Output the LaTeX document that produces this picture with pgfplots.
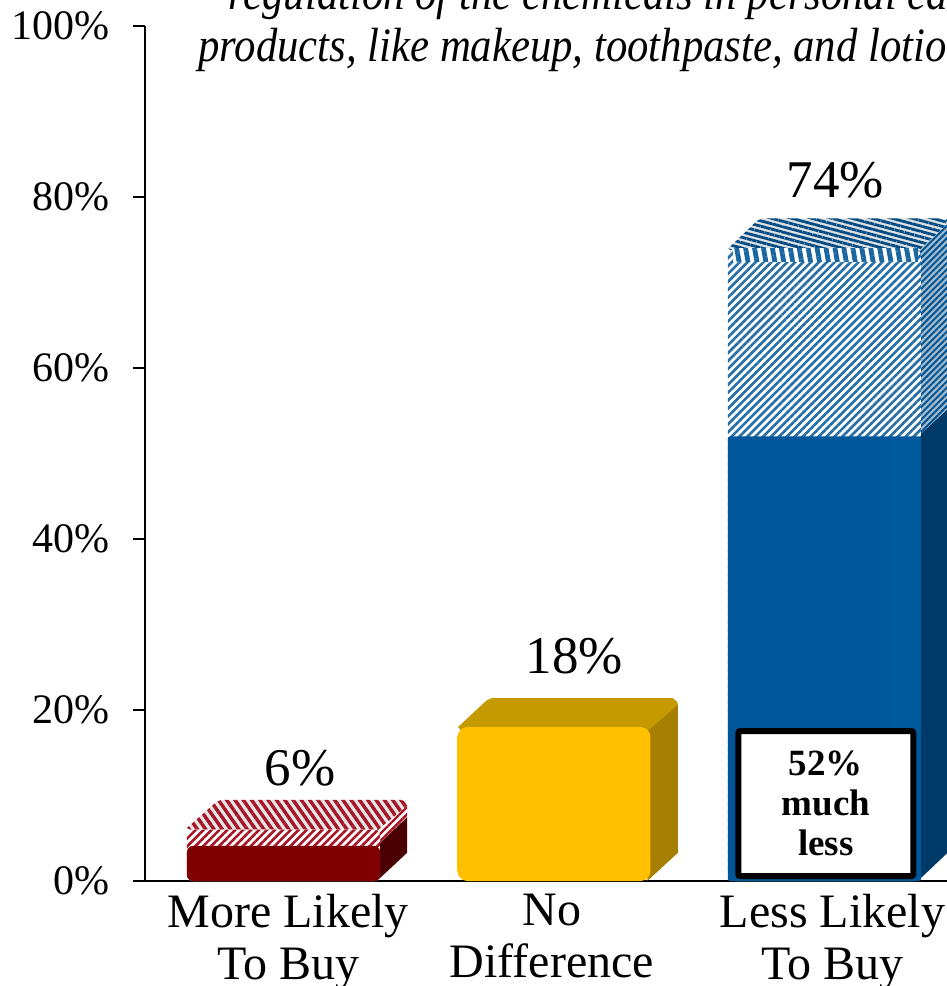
\documentclass[border=0pt]{standalone}
\usepackage{fontspec}
\setmainfont{Liberation Serif}
\usepackage{graphicx}
\usepackage{pgfplots}
\pgfplotsset{compat=1.18}
\usetikzlibrary{patterns.meta}

\definecolor{redfront}{HTML}{7F0000}
\definecolor{redstripe}{HTML}{A51525}
\definecolor{redside}{HTML}{4A0000}
\definecolor{goldfront}{HTML}{FFC000}
\definecolor{goldtop}{HTML}{C49A00}
\definecolor{goldside}{HTML}{A67F00}
\definecolor{bluefront}{HTML}{005596}
\definecolor{blueright}{HTML}{005A9E}
\definecolor{blueside}{HTML}{003A68}
\definecolor{edgegrey}{HTML}{9A9A9A}
\definecolor{edgelight}{HTML}{C8C0A0}

% soft bevel on the left and right edge of the front faces
\pgfdeclarehorizontalshading{redbevel}{100bp}{color(0bp)=(edgegrey); color(1.5bp)=(redfront); color(92bp)=(redfront); color(100bp)=(redside)}
\pgfdeclarehorizontalshading{goldbevel}{100bp}{color(0bp)=(edgelight); color(2bp)=(goldfront); color(91bp)=(goldfront); color(100bp)=(goldside)}
\pgfdeclarehorizontalshading{bluebevel}{100bp}{color(0bp)=(edgegrey); color(1.5bp)=(bluefront); color(95bp)=(blueright); color(100bp)=(blueside)}

\tikzset{stripes/.style n args={4}{fill=white, postaction={pattern={Lines[angle=#1,distance=#2pt,line width=#3pt]}, pattern color=#4}}}

\begin{document}
\begin{tikzpicture}
\useasboundingbox (0,0) rectangle (473.5pt,493pt);
\clip (0,0) rectangle (473.5pt,493pt);

\begin{axis}[
    at={(72.5pt,52.5pt)},
    anchor=south west,
    scale only axis,
    width=401pt,
    height=427.5pt,
    ybar,
    bar width=96.5pt,
    bar shift=0pt,
    xmin=-0.512, xmax=2.453,
    ymin=0, ymax=100,
    axis x line=bottom,
    axis y line=left,
    axis line style={-, line width=1.2pt},
    xtick={0.017,0.992,2.03},
    xticklabels={More Likely\\To Buy, No\\Difference, Less Likely\\To Buy},
    x tick label style={align=center, font=\fontsize{24}{26}\selectfont, yshift=3pt},
    xtick style={draw=none},
    ytick={0,20,40,60,80,100},
    yticklabel={\pgfmathprintnumber{\tick}\%},
    /pgf/number format/assume math mode=true,
    y tick label style={font=\fontsize{21}{22}\selectfont, xshift=-8pt},
    ytick style={line width=0.7pt, black},
    major tick length=6pt,
    tick align=outside,
]
% side faces
\addplot[sharp plot, fill=redside, draw=none] coordinates {(0.345,0) (0.457,3.3) (0.457,7.5) (0.345,4.1)};
\addplot[sharp plot, draw=none, stripes={45}{2.6}{1.2}{redstripe}] coordinates {(0.345,4.1) (0.457,7.5) (0.457,9) (0.44,9.5) (0.345,6)};
\addplot[sharp plot, fill=goldside, draw=none] coordinates {(1.345,0) (1.458,3.3) (1.458,20.6) (1.44,21.4) (1.345,18)};
\addplot[sharp plot, fill=blueside, draw=none] coordinates {(2.345,0) (2.455,3.3) (2.455,55.2) (2.345,52)};
\addplot[sharp plot, draw=none, stripes={45}{2.2}{1}{bluefront}, fill=blueside!35!white] coordinates {(2.345,52) (2.455,55.2) (2.455,77.5) (2.345,74)};
% top faces
\addplot[sharp plot, draw=none, stripes={-55}{3.4}{1.7}{redstripe}, fill=white!90!black] coordinates {(-0.345,6) (0.345,6) (0.357,6.2) (0.457,8.8) (0.455,9.2) (0.435,9.5) (-0.23,9.5) (-0.25,9.2) (-0.357,6.2)};
\addplot[sharp plot, fill=goldtop, draw=none] coordinates {(0.66,17.5) (1.345,17.5) (1.362,18) (1.458,20.6) (1.455,21) (1.435,21.4) (0.77,21.4) (0.75,21.1) (0.645,18)};
\addplot[sharp plot, draw=none, stripes={-15}{2.6}{1.4}{bluefront!90!black}, fill=white!88!black] coordinates {(1.66,73.5) (2.345,73.5) (2.357,74) (2.452,76.8) (2.45,77.2) (2.43,77.5) (1.77,77.5) (1.75,77.2) (1.645,74)};
% front faces, the total with stripes and the solid part over it
\addplot[rounded corners=3pt, draw=none, stripes={45}{2.8}{1.3}{redstripe}] coordinates {(0,6)};
\addplot[shading=redbevel, rounded corners=3pt, draw=none] coordinates {(0,4.1)};
\addplot[shading=goldbevel, rounded corners=5pt, draw=none] coordinates {(1,18)};
\addplot[rounded corners=4pt, draw=none, stripes={45}{2.8}{1.3}{bluefront!85!white}] coordinates {(2,74)};
\addplot[sharp plot, draw=none, stripes={100}{4.4}{2.4}{bluefront!90!white}] coordinates {(1.66,72.4) (2.345,72.4) (2.345,74) (1.66,74)};
\addplot[shading=bluebevel, rounded corners=1pt, draw=none] coordinates {(2,52)};

\node[anchor=base, font=\fontsize{26.5}{28}\selectfont] at (axis cs:0.062,11.2) {6\%};
\node[anchor=base, font=\fontsize{26.5}{28}\selectfont] at (axis cs:1.075,24.3) {18\%};
\node[anchor=base, font=\fontsize{26.5}{28}\selectfont] at (axis cs:2.04,79.9) {74\%};
\node[draw=black, fill=white, line width=3pt, rounded corners=1pt, minimum width=87.5pt, minimum height=72.5pt, inner sep=0pt, align=center, font=\fontsize{18.5}{20}\selectfont\bfseries] at (axis cs:2.005,9.06) {52\%\\much\\less};
\end{axis}

\node[anchor=base west, inner sep=0pt, font=\fontsize{24}{26}\selectfont\itshape] at (114pt,488pt) {\scalebox{0.89}[1]{regulation of the chemicals in personal care}};
\node[anchor=base west, inner sep=0pt, font=\fontsize{24}{26}\selectfont\itshape] at (99pt,462pt) {\scalebox{0.89}[1]{products, like makeup, toothpaste, and lotions}};
\end{tikzpicture}
\end{document}
